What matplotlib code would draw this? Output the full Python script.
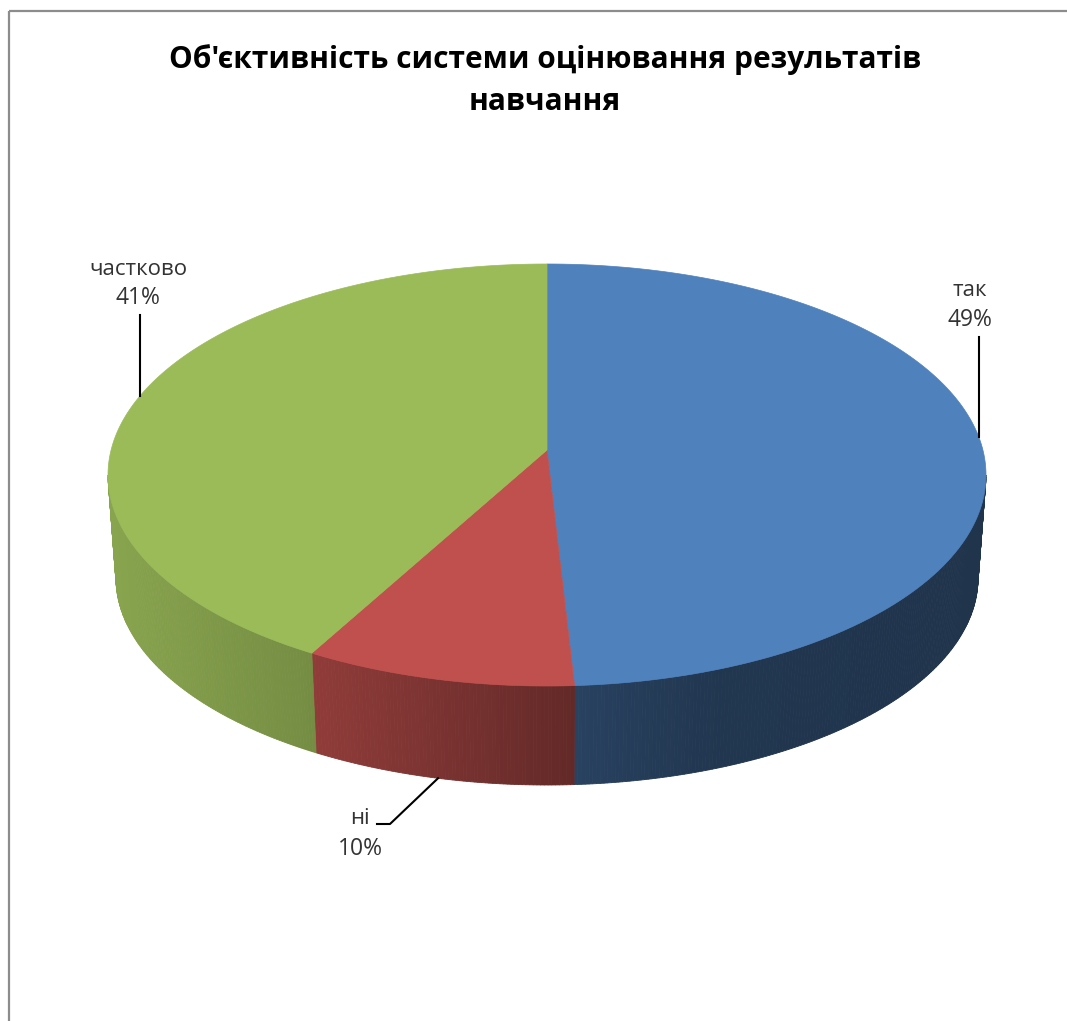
import numpy as np
import matplotlib.pyplot as plt
import matplotlib.colors as mcolors
from matplotlib.patches import Polygon, Rectangle

labels = ['так', 'ні', 'частково']
values = [49, 10, 41]
colors = ['#4F81BD', '#C0504D', '#9BBB59']
title_lines = ["Об'єктивність системи оцінювання результатів", "навчання"]

plt.rcParams['font.family'] = ['Open Sans', 'DejaVu Sans']

W, H = 1067, 1021
fig = plt.figure(figsize=(W / 100, H / 100), dpi=100)
ax = fig.add_axes([0, 0, 1, 1])
ax.set_xlim(0, W)
ax.set_ylim(H, 0)
ax.axis('off')

# chart border (left + top visible)
ax.add_patch(Rectangle((8.5, 11.5), W + 20, H + 20, fill=False, ec='#8c8c8c', lw=1.6))

# 3d disc geometry, in pixels
cx, cy = 547, 475
a_top, b_top = 439, 211
a_bot, b_bot = 431, 207
cy_bot = 578
apex = (547, 450)


def top_pt(t):
    return cx + a_top * np.cos(t), cy - b_top * np.sin(t)


def bot_pt(t):
    return cx + a_bot * np.cos(t), cy_bot - b_bot * np.sin(t)


def shade(x):
    u = (x - (cx - a_top)) / (2 * a_top)
    return np.interp(u, [0, 0.22, 0.55, 0.7, 1], [0.88, 0.76, 0.5, 0.42, 0.40])


fracs = np.array(values) / sum(values)
ends = 90 - 360 * np.cumsum(fracs)
starts = ends + 360 * fracs

# front walls with a left-to-right darkening
for s, e, c in zip(starts, ends, colors):
    lo, hi = max(e, -180), min(s, 0)
    if lo >= hi:
        continue
    edges = np.linspace(lo, hi, int((hi - lo) / 0.5) + 2)
    rgb = np.array(mcolors.to_rgb(c))
    for t0, t1 in zip(edges[:-1], edges[1:]):
        ts = np.radians([t0, t1])
        xt, yt = top_pt(ts)
        xb, yb = bot_pt(ts)
        poly = [(xt[0], yt[0]), (xt[1], yt[1]), (xb[1], yb[1]), (xb[0], yb[0])]
        col = rgb * shade((xt[0] + xt[1]) / 2)
        ax.add_patch(Polygon(poly, closed=True, fc=col, ec=col, lw=0.6))

# top faces
for s, e, c in zip(starts, ends, colors):
    ts = np.radians(np.linspace(s, e, 300))
    xs, ys = top_pt(ts)
    pts = np.column_stack([np.r_[apex[0], xs], np.r_[apex[1], ys]])
    ax.add_patch(Polygon(pts, closed=True, fc=c, ec=c, lw=0.5))

# title
ax.text(545, 60, title_lines[0], ha='center', va='center', fontsize=21.5, fontweight='bold', color='black')
ax.text(545, 102, title_lines[1], ha='center', va='center', fontsize=21.5, fontweight='bold', color='black')

# data labels: (text x, name y, pct y, leader x, which rim)
label_pos = {
    'так': (970, 290, 320, 979, 'top'),
    'ні': (360, 818, 849, 438, 'bot'),
    'частково': (138, 269, 298, 140, 'top'),
}
for lab, val in zip(labels, values):
    tx, ny, py, lx, rim = label_pos[lab]
    ax.text(tx, ny, lab, ha='center', va='center', fontsize=16, color='#333333')
    ax.text(tx, py, f'{val}%', ha='center', va='center', fontsize=16.5, color='#333333')
    if rim == 'top':
        ly = cy - b_top * np.sqrt(1 - ((lx - cx) / a_top) ** 2)
        ax.plot([lx, lx], [py + 17, ly], color='black', lw=1.5)
    else:
        ly = cy_bot + b_bot * np.sqrt(1 - ((lx - cx) / a_bot) ** 2)
        ax.plot([377, 390, lx], [ny + 6, ny + 6, ly], color='black', lw=1.5)

fig.savefig('out.png', dpi=100)
